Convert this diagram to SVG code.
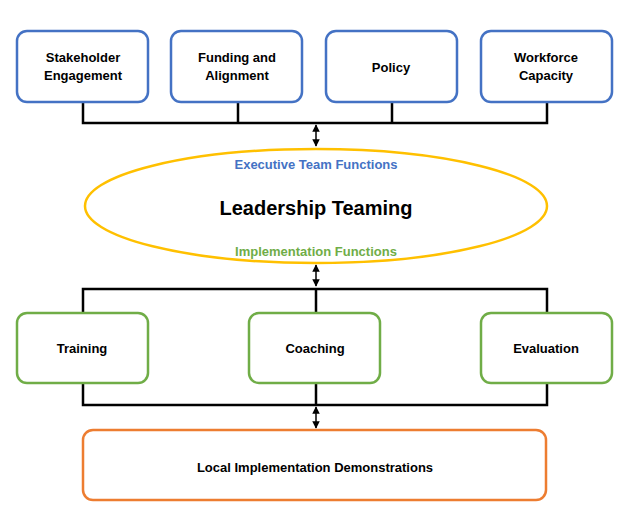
<svg xmlns="http://www.w3.org/2000/svg" width="640" height="522" viewBox="0 0 640 522">
<defs>
<marker id="ah" viewBox="0 0 10 10" refX="9" refY="5" markerWidth="5" markerHeight="5" orient="auto-start-reverse"><path d="M0,0L10,5L0,10z" fill="#000"/></marker>
<style>
.t{font-family:"Liberation Sans",Arial,sans-serif;font-weight:bold;font-size:13px;fill:#000;text-anchor:middle}
.b{fill:#fff;stroke-width:2.5}
.blue{stroke:#4472C4}.green{stroke:#70AD47}.orange{stroke:#ED7D31}
.c{fill:none;stroke:#000;stroke-width:2.5}
.a{fill:none;stroke:#000;stroke-width:1.5;marker-start:url(#ah);marker-end:url(#ah)}
</style>
</defs>
<rect width="640" height="522" fill="#fff"/>
<g id="connectors">
<path class="c" d="M83,102V123H547V102M238,102V123M392,102V123"/>
<line class="a" x1="316" y1="125" x2="316" y2="146"/>
<line class="a" x1="316" y1="265" x2="316" y2="286"/>
<path class="c" d="M83,313V289H547V313M316,289V313"/>
<path class="c" d="M83,383V405H547V383M316,383V405"/>
<line class="a" x1="316" y1="407" x2="316" y2="428"/>
</g>
<g id="stakeholder"><rect class="b blue" x="17" y="31" width="131" height="71" rx="10"/><text class="t" x="83" y="62">Stakeholder</text><text class="t" x="83" y="80">Engagement</text></g>
<g id="funding"><rect class="b blue" x="171" y="31" width="131" height="71" rx="10"/><text class="t" x="237" y="62">Funding and</text><text class="t" x="237" y="80">Alignment</text></g>
<g id="policy"><rect class="b blue" x="326" y="31" width="131" height="71" rx="10"/><text class="t" x="391" y="72">Policy</text></g>
<g id="workforce"><rect class="b blue" x="481" y="31" width="131" height="71" rx="10"/><text class="t" x="546" y="62">Workforce</text><text class="t" x="546" y="80">Capacity</text></g>
<g id="leadership">
<ellipse cx="316" cy="206" rx="231" ry="57" fill="#fff" stroke="#FFC000" stroke-width="2.5"/>
<text class="t" x="316" y="169" style="fill:#4472C4">Executive Team Functions</text>
<text class="t" x="316" y="215" style="font-size:20px">Leadership Teaming</text>
<text class="t" x="316" y="256" style="fill:#70AD47">Implementation Functions</text>
</g>
<g id="training"><rect class="b green" x="17" y="313" width="131" height="70" rx="10"/><text class="t" x="82" y="353">Training</text></g>
<g id="coaching"><rect class="b green" x="249" y="313" width="131" height="70" rx="10"/><text class="t" x="315" y="353">Coaching</text></g>
<g id="evaluation"><rect class="b green" x="481" y="313" width="131" height="70" rx="10"/><text class="t" x="546" y="353">Evaluation</text></g>
<g id="local"><rect class="b orange" x="83" y="430" width="463" height="70" rx="10"/><text class="t" x="315" y="472">Local Implementation Demonstrations</text></g>
</svg>
